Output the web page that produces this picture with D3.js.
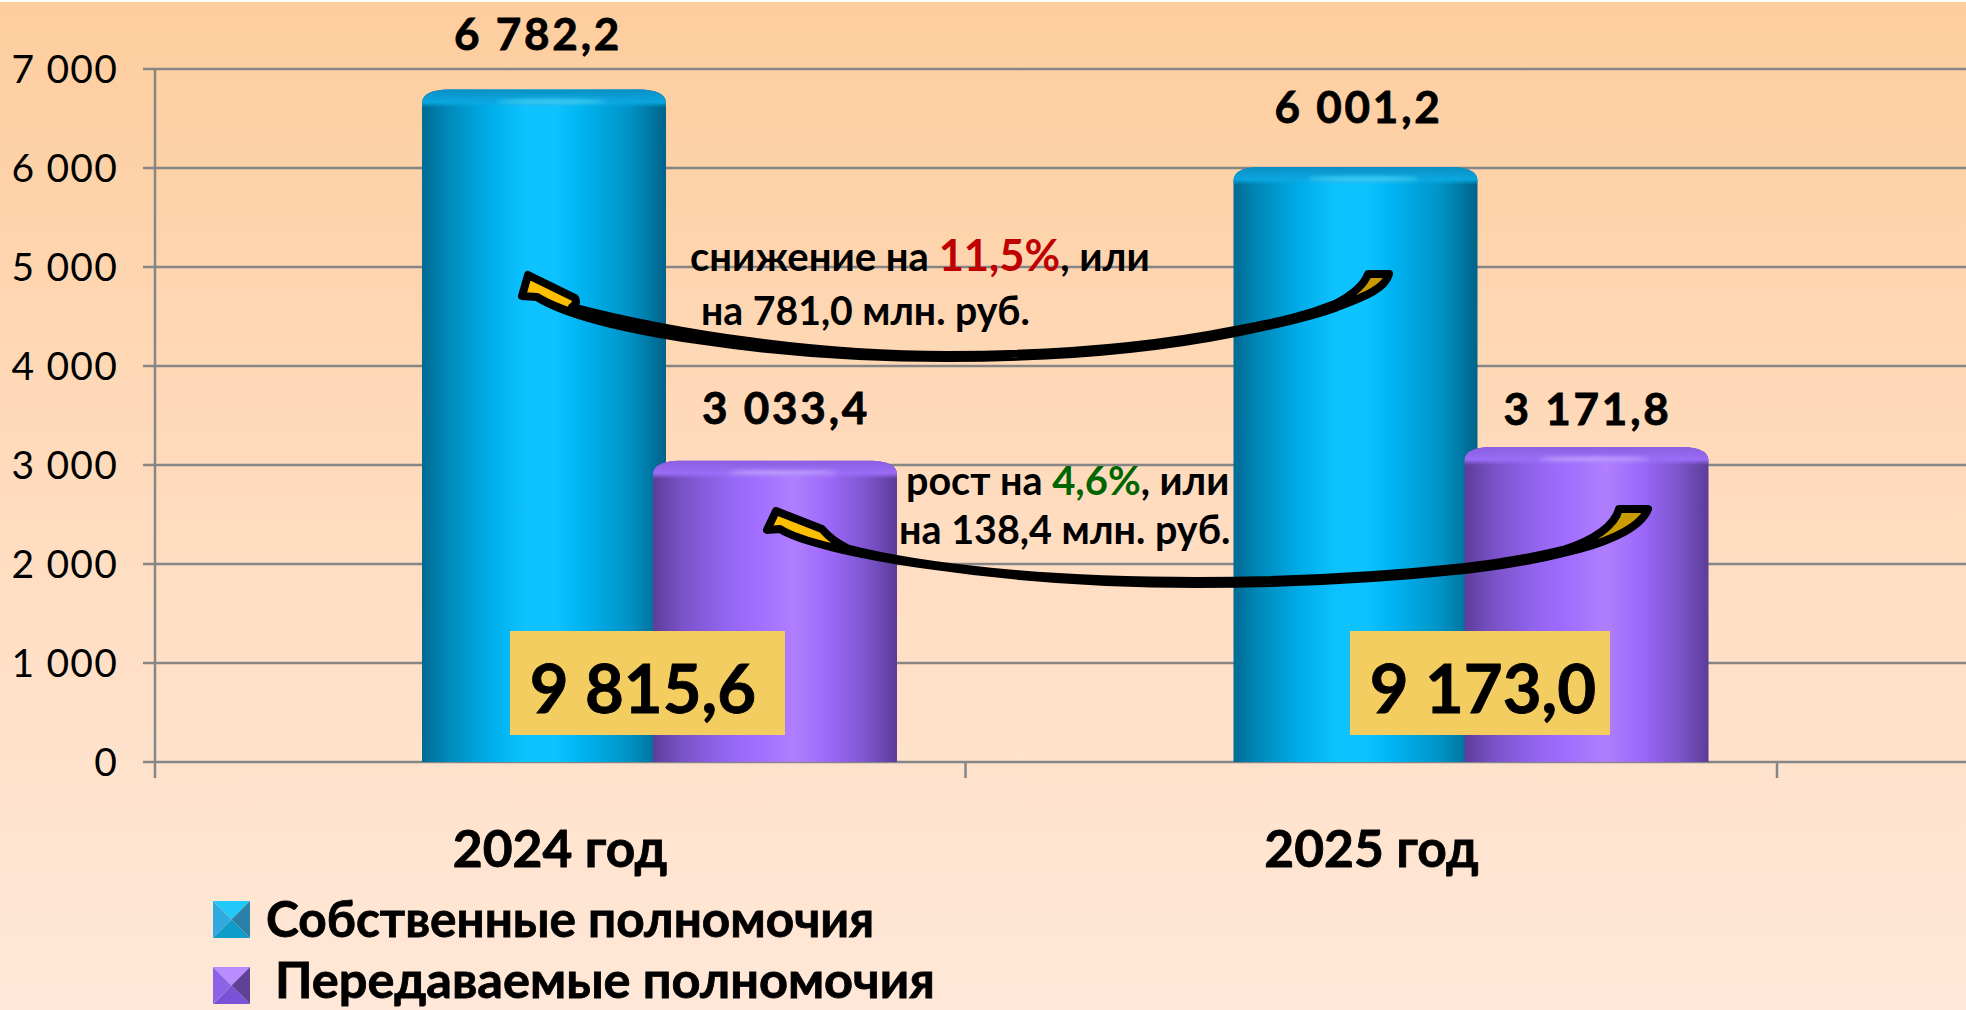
<!DOCTYPE html>
<html>
<head>
<meta charset="utf-8">
<script src="https://cdnjs.cloudflare.com/ajax/libs/d3/7.8.5/d3.min.js"></script>
<style>
  html, body { margin: 0; padding: 0; background: #fff; overflow: hidden; }
  text { font-family: Lato, "Open Sans", sans-serif; font-weight: 700; fill: #000; }
  .heavy { stroke: #000; stroke-width: 0.8; }
</style>
</head>
<body>
<svg id="chart"></svg>
<script>
var years = ["2024 год", "2025 год"];
var ownValues = [6782.2, 6001.2];
var passedValues = [3033.4, 3171.8];
var ownLabels = ["6 782,2", "6 001,2"];
var passedLabels = ["3 033,4", "3 171,8"];
var totalLabels = ["9 815,6", "9 173,0"];
var yTicks = [0, 1000, 2000, 3000, 4000, 5000, 6000, 7000];
var legendNames = ["Собственные полномочия", "Передаваемые полномочия"];

var screen = { width: 1966, height: 1010 };

var svg = d3.select("#chart")
  .attr("width", screen.width)
  .attr("height", screen.height);

var defs = svg.append("defs");

var addGradient = function(id, stops, vertical) {
  var g = defs.append("linearGradient").attr("id", id)
    .attr("x1", 0).attr("y1", 0)
    .attr("x2", vertical ? 0 : 1).attr("y2", vertical ? 1 : 0);
  stops.forEach(function(s) {
    g.append("stop").attr("offset", s[0]).attr("stop-color", s[1])
      .attr("stop-opacity", s[2] === undefined ? 1 : s[2]);
  });
};

addGradient("bg", [[0, "#fdcd9d"], [0.5, "#ffdcbf"], [1, "#ffe8d8"]], true);
addGradient("ownBody", [[0, "#006a92"], [0.1, "#0088b8"], [0.28, "#00aeea"], [0.42, "#0dc2ff"], [0.55, "#0dc2ff"], [0.65, "#00b4f2"], [0.85, "#0093c6"], [1, "#00638a"]]);
addGradient("passedBody", [[0, "#5d3d9a"], [0.12, "#7a52c8"], [0.3, "#9466f0"], [0.42, "#a06dff"], [0.58, "#b07fff"], [0.72, "#9c69fa"], [0.88, "#7d54cc"], [1, "#5c3c98"]]);
addGradient("ownTop", [[0, "#0a8fc4"], [0.7, "#0ba8e2", 0.95], [1, "#0ba8e2", 0]], true);
addGradient("passedTop", [[0, "#8a5fe0"], [0.7, "#9c6ef8", 0.95], [1, "#9c6ef8", 0]], true);

defs.append("filter").attr("id", "soft")
  .attr("x", "-20%").attr("y", "-300%").attr("width", "140%").attr("height", "700%")
  .append("feGaussianBlur").attr("stdDeviation", 2);

svg.append("rect")
  .attr("y", 2)
  .attr("width", screen.width)
  .attr("height", screen.height - 2)
  .attr("fill", "url(#bg)");

var margins = { left: 154, right: 1777, top: 69, bottom: 762 };

var xScale = d3.scaleBand()
  .domain(years)
  .range([margins.left, margins.right]);

var yScale = d3.scaleLinear()
  .domain([0, 7000])
  .range([margins.bottom, margins.top]);

var barWidth = 244;
var ownOffset = 268;     // left edge of blue bar inside its band
var passedOffset = 499;  // left edge of purple bar, overlaps the blue one

// grid
svg.append("g").selectAll("line")
  .data(yTicks)
  .enter()
  .append("line")
  .attr("x1", margins.left - 11)
  .attr("x2", screen.width)
  .attr("y1", function(d) { return yScale(d); })
  .attr("y2", function(d) { return yScale(d); })
  .attr("stroke", "#868686")
  .attr("stroke-width", 2.5);

// y axis line and category ticks
svg.append("line")
  .attr("x1", margins.left + 1).attr("x2", margins.left + 1)
  .attr("y1", margins.top).attr("y2", margins.bottom + 16)
  .attr("stroke", "#868686").attr("stroke-width", 2.5);

svg.append("g").selectAll("line")
  .data(years)
  .enter()
  .append("line")
  .attr("x1", function(d) { return xScale(d) + xScale.bandwidth(); })
  .attr("x2", function(d) { return xScale(d) + xScale.bandwidth(); })
  .attr("y1", margins.bottom)
  .attr("y2", margins.bottom + 16)
  .attr("stroke", "#868686").attr("stroke-width", 2.5);

svg.append("g").selectAll("text")
  .data(yTicks)
  .enter()
  .append("text")
  .text(function(d) { return d3.format(",")(d).replace(",", " "); })
  .attr("x", 118)
  .attr("y", function(d) { return yScale(d) + 14; })
  .attr("text-anchor", "end")
  .attr("font-size", 39)
  .attr("letter-spacing", 1.2)
  .style("font-weight", 400);

// cylinder bar: body plus a rounded cap that fades into the body
var barShape = function(x, y, bottom) {
  var p = d3.path();
  p.moveTo(x, bottom);
  p.lineTo(x, y + 14);
  p.bezierCurveTo(x, y + 5, x + 9, y, x + 28, y);
  p.lineTo(x + barWidth - 28, y);
  p.bezierCurveTo(x + barWidth - 9, y, x + barWidth, y + 5, x + barWidth, y + 14);
  p.lineTo(x + barWidth, bottom);
  p.closePath();
  return p.toString();
};

var drawBars = function(values, offset, bodyId, topId, shineColor) {
  var g = svg.append("g");
  values.forEach(function(v, i) {
    var x = xScale(years[i]) + offset;
    var y = yScale(v) - 1;
    g.append("path").attr("d", barShape(x, y, yScale(0))).attr("fill", "url(#" + bodyId + ")");
    g.append("path").attr("d", barShape(x, y, y + 18)).attr("fill", "url(#" + topId + ")");
    g.append("ellipse")
      .attr("cx", x + barWidth / 2 + 8)
      .attr("cy", y + 12)
      .attr("rx", 55)
      .attr("ry", 2)
      .attr("fill", shineColor)
      .attr("opacity", 0.8)
      .attr("filter", "url(#soft)");
  });
};

drawBars(ownValues, ownOffset, "ownBody", "ownTop", "#5fe4ff");
drawBars(passedValues, passedOffset, "passedBody", "passedTop", "#d6baff");

// value labels above bars
var ownLabelX = [384, 393];
var ownLabelY = [50, 123];
var passedLabelX = [632, 622];
var passedLabelY = [424, 425];

svg.append("g").selectAll("text")
  .data(ownLabels)
  .enter()
  .append("text")
  .text(function(d) { return d; })
  .attr("class", "heavy")
  .attr("x", function(d, i) { return xScale(years[i]) + ownLabelX[i]; })
  .attr("y", function(d, i) { return ownLabelY[i]; })
  .attr("text-anchor", "middle")
  .attr("font-size", 44)
  .attr("letter-spacing", 2.8);

svg.append("g").selectAll("text")
  .data(passedLabels)
  .enter()
  .append("text")
  .text(function(d) { return d; })
  .attr("class", "heavy")
  .attr("x", function(d, i) { return xScale(years[i]) + passedLabelX[i]; })
  .attr("y", function(d, i) { return passedLabelY[i]; })
  .attr("text-anchor", "middle")
  .attr("font-size", 44)
  .attr("letter-spacing", 2.8);

// total boxes
var totalBoxX = [510, 1350];
var totalBoxW = [275, 260];
var totalTextX = [643, 1483];
svg.append("g").selectAll("rect")
  .data(totalLabels)
  .enter()
  .append("rect")
  .attr("x", function(d, i) { return totalBoxX[i]; })
  .attr("y", 631)
  .attr("width", function(d, i) { return totalBoxW[i]; })
  .attr("height", 104)
  .attr("fill", "#f3cd5f");

svg.append("g").selectAll("text")
  .data(totalLabels)
  .enter()
  .append("text")
  .text(function(d) { return d; })
  .attr("class", "heavy")
  .attr("x", function(d, i) { return totalTextX[i]; })
  .attr("y", 713)
  .attr("text-anchor", "middle")
  .attr("font-size", 67);

// curved arrows
var drawArrow = function(build, id) {
  addGradient(id, [[0, "#ffc000"], [1, "#c99a00"]]);
  var p = d3.path();
  build(p);
  p.closePath();
  svg.append("path")
    .attr("d", p.toString())
    .attr("fill", "url(#" + id + ")")
    .attr("stroke", "#000")
    .attr("stroke-width", 8)
    .attr("stroke-linejoin", "round");
};

drawArrow(function(p) {
  p.moveTo(528, 275);
  p.lineTo(522, 296);
  p.lineTo(537, 297);
  p.bezierCurveTo(590, 330, 770, 358, 948, 358);
  p.bezierCurveTo(1050, 358, 1150, 350, 1235, 333);
  p.bezierCurveTo(1275, 325, 1310, 317, 1335, 308);
  p.bezierCurveTo(1360, 298, 1385, 290, 1389, 274);
  p.lineTo(1368, 274);
  p.bezierCurveTo(1364, 285, 1352, 295, 1335, 304);
  p.bezierCurveTo(1300, 318, 1275, 322, 1235, 330);
  p.bezierCurveTo(1150, 347, 1050, 355, 948, 355);
  p.bezierCurveTo(820, 355, 680, 335, 572, 307);
  p.quadraticCurveTo(578, 304, 575, 298);
}, "arrowA");

drawArrow(function(p) {
  p.moveTo(776, 511);
  p.lineTo(767, 530);
  p.lineTo(780, 529);
  p.bezierCurveTo(815, 552, 1000, 584, 1197, 584);
  p.bezierCurveTo(1290, 584, 1390, 578, 1465, 570);
  p.bezierCurveTo(1500, 566, 1535, 560, 1563, 553);
  p.bezierCurveTo(1600, 545, 1640, 530, 1648, 509);
  p.lineTo(1619, 509);
  p.bezierCurveTo(1615, 525, 1595, 540, 1563, 550);
  p.bezierCurveTo(1530, 558, 1500, 563, 1465, 567);
  p.bezierCurveTo(1390, 575, 1290, 581, 1197, 581);
  p.bezierCurveTo(1040, 581, 920, 567, 849, 549);
  p.quadraticCurveTo(832, 541, 822, 529);
}, "arrowB");

// notes between the bars
var note = function(x, y, parts, size) {
  var t = svg.append("text").attr("x", x).attr("y", y).attr("font-size", size);
  parts.forEach(function(p) {
    t.append("tspan").text(p[0]).style("fill", p[1] || "#000").attr("font-size", p[2] || size);
  });
};

note(690, 271, [["снижение на "], ["11,5%", "#c00000", 43.5], [", или"]], 40);
note(701, 325, [["на 781,0 млн. руб."]], 39.2);
note(906, 495, [["рост на "], ["4,6%", "#006600", 40], [", или"]], 39.5);
note(899, 544, [["на 138,4 млн. руб."]], 39.5);

// category labels
svg.append("g").selectAll("text")
  .data(years)
  .enter()
  .append("text")
  .text(function(d) { return d; })
  .attr("class", "heavy")
  .attr("x", function(d) { return xScale(d) + 406; })
  .attr("y", 867)
  .attr("text-anchor", "middle")
  .attr("font-size", 51.5);

// legend
var swatchColors = [
  ["#22c8f8", "#0e9cc8", "#2b80aa", "#2fa9e0"],
  ["#b98cff", "#7a52d8", "#5f4198", "#8c62e6"]
];
var legendY = [901, 967];
var legendBaseline = [937, 998];
var legendTextX = [266, 275];
var legendSize = [49.5, 50.5];
var swatchSize = 37;

legendNames.forEach(function(name, i) {
  var x = 213, y = legendY[i], s = swatchSize;
  var g = svg.append("g");
  var tri = [
    [[x, y], [x + s, y], [x + s / 2, y + s / 2]],
    [[x, y + s], [x + s, y + s], [x + s / 2, y + s / 2]],
    [[x + s, y], [x + s, y + s], [x + s / 2, y + s / 2]],
    [[x, y], [x, y + s], [x + s / 2, y + s / 2]]
  ];
  tri.forEach(function(p, k) {
    g.append("path").attr("d", "M" + p.join("L") + "Z").attr("fill", swatchColors[i][k]);
  });
  svg.append("text")
    .text(name)
    .attr("class", "heavy")
    .attr("x", legendTextX[i])
    .attr("y", legendBaseline[i])
    .attr("font-size", legendSize[i]);
});
</script>
</body>
</html>
